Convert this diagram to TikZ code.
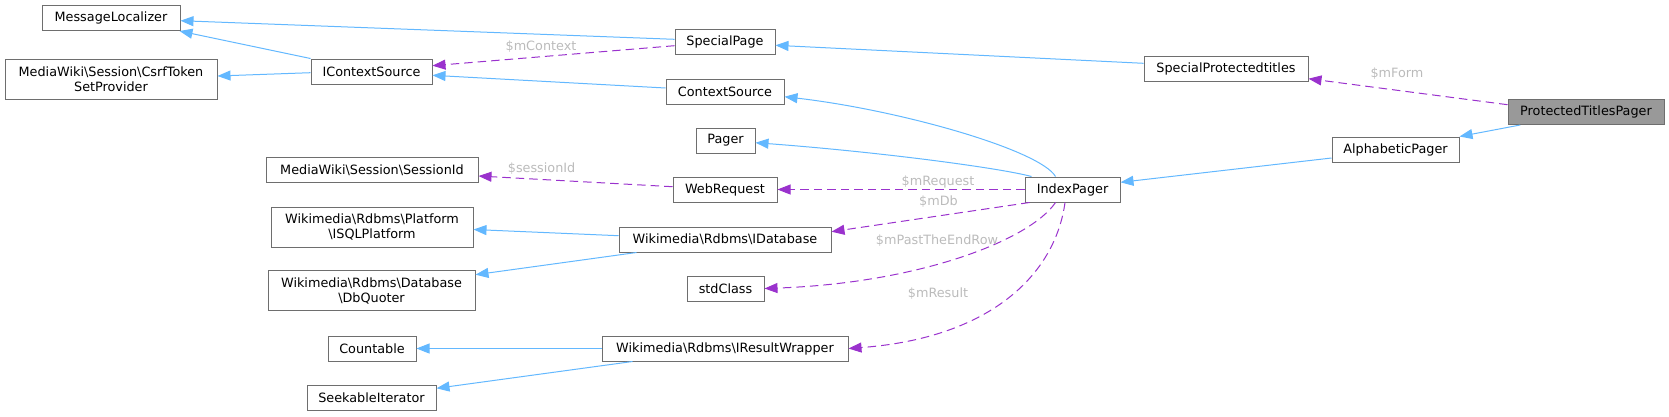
\documentclass[tikz,border=0pt]{standalone}
\usepackage{fontspec}
\setmainfont{DejaVu Sans}
\usetikzlibrary{arrows.meta}
\definecolor{inhblue}{HTML}{63B8FF}
\definecolor{usepurple}{HTML}{9A32CD}
\definecolor{boxborder}{HTML}{6E6E6E}
\definecolor{lblgray}{HTML}{BBBBBB}
\definecolor{curfill}{HTML}{999999}
\newcommand{\bs}{\textbackslash}
\tikzset{
  box/.style={draw=boxborder, line width=1pt, fill=white, inner sep=0pt, minimum height=25pt, align=center, font=\fontsize{12.8}{15}\selectfont},
  cur/.style={box, fill=curfill},
  inh/.style={draw=inhblue, line width=1pt, -{Triangle[length=13pt,width=10pt]}},
  use/.style={draw=usepurple, line width=1pt, dash pattern=on 8.5pt off 5pt, -{Triangle[length=13pt,width=10pt]}},
  lbl/.style={text=lblgray, inner sep=0pt, font=\fontsize{12.8}{15}\selectfont}
}
\begin{document}
\begin{tikzpicture}[x=1pt,y=-1pt]
\useasboundingbox (0,0) rectangle (1669,416);
% nodes
\node[box, minimum width=138pt] (ML) at (111,18) {MessageLocalizer};
\node[box, minimum width=212pt, minimum height=40pt] (CSRF) at (111,79) {MediaWiki\bs Session\bs CsrfToken\\SetProvider};
\node[box, minimum width=121pt] (ICS) at (371.5,71.5) {IContextSource};
\node[box, minimum width=100pt] (SP) at (725,41.5) {SpecialPage};
\node[box, minimum width=118pt] (CS) at (725,91.5) {ContextSource};
\node[box, minimum width=59pt] (PG) at (725.5,140.5) {Pager};
\node[box, minimum width=212pt] (SID) at (372,170) {MediaWiki\bs Session\bs SessionId};
\node[box, minimum width=104pt] (WR) at (725,189.5) {WebRequest};
\node[box, minimum width=202pt, minimum height=40pt] (ISQL) at (372,227) {Wikimedia\bs Rdbms\bs Platform\\\bs ISQLPlatform};
\node[box, minimum width=212pt] (IDB) at (725,239.5) {Wikimedia\bs Rdbms\bs IDatabase};
\node[box, minimum width=207pt, minimum height=40pt] (DBQ) at (371.5,290.5) {Wikimedia\bs Rdbms\bs Database\\\bs DbQuoter};
\node[box, minimum width=77pt] (STD) at (725.5,288.5) {stdClass};
\node[box, minimum width=88pt] (CNT) at (372,348.5) {Countable};
\node[box, minimum width=129pt] (SI) at (371.5,397.5) {SeekableIterator};
\node[box, minimum width=246pt] (IRW) at (725,348.5) {Wikimedia\bs Rdbms\bs IResultWrapper};
\node[box, minimum width=95pt] (IP) at (1072.5,189.5) {IndexPager};
\node[box, minimum width=164pt] (SPT) at (1226,68.5) {SpecialProtectedtitles};
\node[box, minimum width=127pt] (AP) at (1395.5,149.5) {AlphabeticPager};
\node[cur, minimum width=156pt] (PTP) at (1586,112) {ProtectedTitlesPager};
% inheritance edges
\draw[inh] ([yshift=2.2pt]SP.west) -- ([yshift=-2.7pt]ML.east);
\draw[inh] (ICS.north west) -- ([xshift=-1pt]ML.south east);
\draw[inh] ([yshift=-1.2pt]ICS.west) -- ([yshift=3pt]CSRF.east);
\draw[inh] ([yshift=3.5pt]CS.west) -- ([yshift=-3.8pt]ICS.east);
\draw[inh] ([yshift=5.2pt]SPT.west) -- ([yshift=-3.8pt]SP.east);
\draw[inh] ([xshift=-17pt]IP.north) .. controls (1040,150) and (900,110) .. ([yshift=-5.2pt]CS.east);
\draw[inh] ([xshift=7pt]IP.north west) .. controls (1000,168) and (880,152) .. ([yshift=-2.2pt]PG.east);
\draw[inh] ([yshift=-8.5pt]AP.west) -- ([yshift=7.2pt]IP.east);
\draw[inh] ([xshift=12.7pt]PTP.south west) -- (AP.north east);
\draw[inh] ([yshift=3.8pt]IDB.west) -- ([yshift=-2.5pt]ISQL.east);
\draw[inh] ([xshift=18pt]IDB.south west) -- ([yshift=15.8pt]DBQ.east);
\draw[inh] (IRW.west) -- (CNT.east);
\draw[inh] ([xshift=31pt]IRW.south west) -- ([yshift=9.2pt]SI.east);
% usage edges
\draw[use] ([yshift=-4.2pt]SP.west) -- ([yshift=5.8pt]ICS.east);
\draw[use] ([yshift=7.3pt]PTP.west) -- ([yshift=-10.2pt]SPT.east);
\draw[use] ([yshift=2.8pt]WR.west) -- ([yshift=-6pt]SID.east);
\draw[use] (IP.west) -- (WR.east);
\draw[use] ([xshift=5pt]IP.south west) -- ([yshift=7.8pt]IDB.east);
\draw[use] ([xshift=-17pt]IP.south) .. controls (1030,240) and (920,283) .. (STD.east);
\draw[use] ([xshift=-7.5pt]IP.south) .. controls (1055,275) and (990,338) .. (IRW.east);
% labels
\node[lbl] (lctx) at (541,46.7) {\$mContext};
\node[lbl] (lform) at (1397,73.7) {\$mForm};
\node[lbl] (lsid) at (541.6,169) {\$sessionId};
\node[lbl] (lreq) at (938,181.7) {\$mRequest};
\node[lbl] (ldb) at (938.5,201.7) {\$mDb};
\node[lbl] (lpast) at (937,240.7) {\$mPastTheEndRow};
\node[lbl] (lres) at (938,293.3) {\$mResult};
\end{tikzpicture}
\end{document}
